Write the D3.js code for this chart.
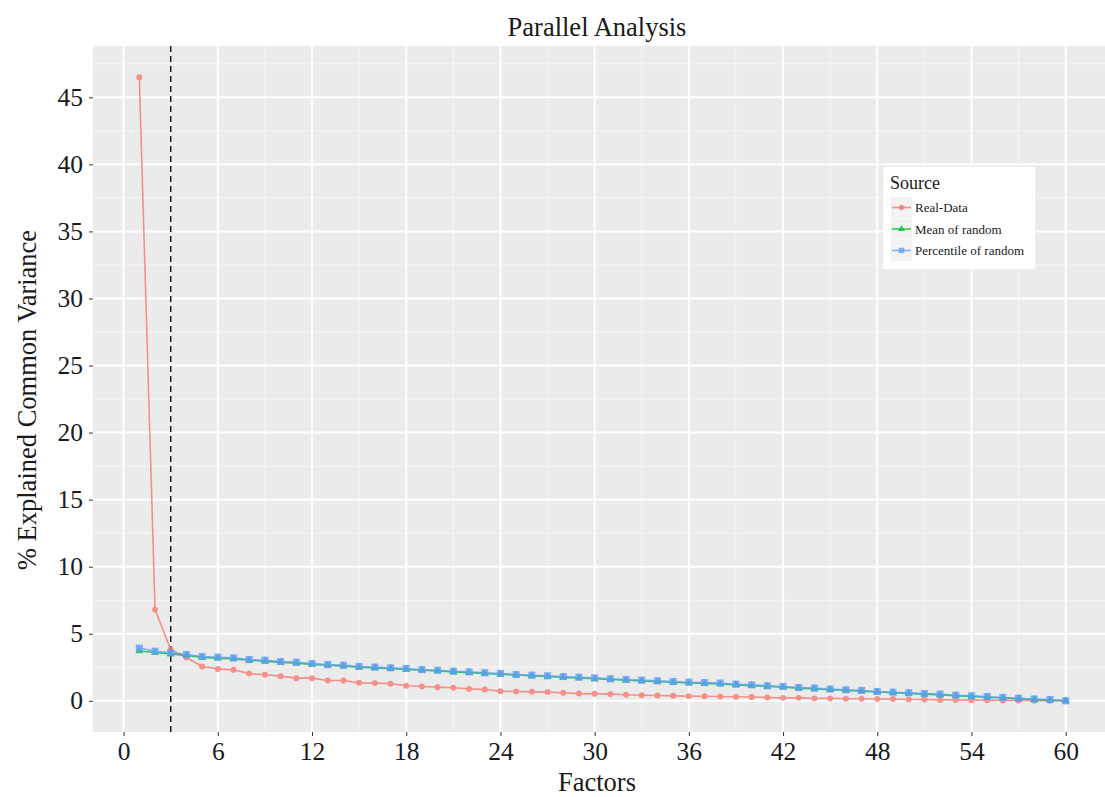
<!DOCTYPE html>
<html>
<head>
<meta charset="utf-8">
<script src="https://cdn.jsdelivr.net/npm/d3@7"></script>
<style>
  body { margin: 0; background: white; }
  text { font-family: "Liberation Serif", "Times New Roman", serif; }
</style>
</head>
<body>
<div id="chart"></div>
<script>
// Data
const factors = d3.range(1, 61);

const realData = [46.5, 6.8, 3.82, 3.23, 2.56, 2.38, 2.31, 2.03, 1.94, 1.84,
  1.69, 1.69, 1.51, 1.51, 1.34, 1.32, 1.28, 1.12, 1.07, 1.02,
  0.97, 0.89, 0.84, 0.72, 0.69, 0.67, 0.65, 0.60, 0.54, 0.52,
  0.50, 0.45, 0.42, 0.40, 0.37, 0.35, 0.34, 0.32, 0.30, 0.28,
  0.25, 0.22, 0.22, 0.18, 0.18, 0.15, 0.15, 0.13, 0.13, 0.10,
  0.10, 0.07, 0.07, 0.05, 0.05, 0.03, 0.03, 0.01, 0.01, 0.00];

const meanRandom = [3.72, 3.60, 3.50, 3.38, 3.24, 3.18, 3.12, 3.02, 2.96, 2.87,
  2.81, 2.72, 2.65, 2.59, 2.51, 2.45, 2.40, 2.34, 2.28, 2.22,
  2.16, 2.10, 2.04, 1.98, 1.92, 1.86, 1.81, 1.75, 1.70, 1.64,
  1.59, 1.53, 1.48, 1.43, 1.38, 1.33, 1.29, 1.25, 1.19, 1.13,
  1.07, 1.01, 0.95, 0.89, 0.83, 0.78, 0.72, 0.66, 0.61, 0.55,
  0.50, 0.44, 0.38, 0.33, 0.27, 0.21, 0.16, 0.10, 0.05, 0.00];

const pctRandom = [3.93, 3.70, 3.58, 3.45, 3.30, 3.25, 3.20, 3.08, 3.03, 2.93,
  2.88, 2.78, 2.70, 2.66, 2.56, 2.51, 2.46, 2.41, 2.33, 2.28,
  2.21, 2.16, 2.09, 2.04, 1.96, 1.91, 1.86, 1.81, 1.76, 1.71,
  1.64, 1.59, 1.54, 1.49, 1.44, 1.39, 1.36, 1.32, 1.24, 1.19,
  1.12, 1.07, 0.99, 0.95, 0.87, 0.82, 0.77, 0.69, 0.64, 0.60,
  0.54, 0.50, 0.42, 0.37, 0.32, 0.25, 0.19, 0.13, 0.10, 0.00];

const seriesNames = ["Real-Data", "Mean of random", "Percentile of random"];
const seriesColors = ["#F8766D", "#00BA38", "#619CFF"];
const seriesShapes = [d3.symbolCircle, d3.symbolTriangle, d3.symbolSquare];

const xTicks = d3.range(0, 61, 6);
const yTicks = d3.range(0, 46, 5);
const cutoff = 3; // vertikal streckad linje

const width = 1105, height = 797;
const panel = { left: 93, right: 1112, top: 46, bottom: 732 };

(() => {
  const svg = d3.select("#chart").append("svg")
    .attr("width", width)
    .attr("height", height);

  // ggplot-style expansion (5 %)
  const x = d3.scaleLinear().domain([1 - 2.95, 60 + 2.95]).range([panel.left, panel.right]);
  const yMax = d3.max(realData);
  const y = d3.scaleLinear().domain([-yMax * 0.05, yMax * 1.05]).range([panel.bottom, panel.top]);

  svg.append("rect")
    .attr("x", panel.left).attr("y", panel.top)
    .attr("width", panel.right - panel.left).attr("height", panel.bottom - panel.top)
    .attr("fill", "#EBEBEB");

  const grid = svg.append("g");
  // minor grid
  const xMinor = d3.range(3, 63, 6).filter(v => v < x.domain()[1]);
  const yMinor = d3.range(2.5, 50, 5).filter(v => v < y.domain()[1]);
  grid.selectAll(".xminor").data(xMinor).enter().append("line")
    .attr("x1", d => x(d)).attr("x2", d => x(d))
    .attr("y1", panel.top).attr("y2", panel.bottom)
    .attr("stroke", "#F5F5F5").attr("stroke-width", 1);
  grid.selectAll(".yminor").data(yMinor).enter().append("line")
    .attr("y1", d => y(d)).attr("y2", d => y(d))
    .attr("x1", panel.left).attr("x2", panel.right)
    .attr("stroke", "#F5F5F5").attr("stroke-width", 1);
  // major grid
  grid.selectAll(".xmajor").data(xTicks).enter().append("line")
    .attr("x1", d => x(d)).attr("x2", d => x(d))
    .attr("y1", panel.top).attr("y2", panel.bottom)
    .attr("stroke", "white").attr("stroke-width", 2);
  grid.selectAll(".ymajor").data(yTicks).enter().append("line")
    .attr("y1", d => y(d)).attr("y2", d => y(d))
    .attr("x1", panel.left).attr("x2", panel.right)
    .attr("stroke", "white").attr("stroke-width", 2);

  // axes
  const xAxis = svg.append("g")
    .attr("transform", `translate(0,${panel.bottom})`)
    .call(d3.axisBottom(x).tickValues(xTicks).tickSize(4).tickPadding(6));
  const yAxis = svg.append("g")
    .attr("transform", `translate(${panel.left},0)`)
    .call(d3.axisLeft(y).tickValues(yTicks).tickSize(4).tickPadding(6));
  [xAxis, yAxis].forEach(a => {
    a.select(".domain").remove();
    a.selectAll(".tick line").attr("stroke", "#333");
    a.selectAll(".tick text")
      .attr("fill", "#1a1a1a")
      .style("font-family", "Liberation Serif, serif")
      .style("font-size", "25.5px");
  });

  // streckad linje
  svg.append("line")
    .attr("x1", x(cutoff)).attr("x2", x(cutoff))
    .attr("y1", panel.top).attr("y2", panel.bottom)
    .attr("stroke", "#1a1a1a").attr("stroke-width", 1.5)
    .attr("stroke-dasharray", "6,4");

  const allSeries = [realData, meanRandom, pctRandom];
  const line = d3.line().x((d, i) => x(factors[i])).y(d => y(d));

  allSeries.forEach((vals, s) => {
    const g = svg.append("g").attr("opacity", 0.78);
    g.append("path")
      .datum(vals)
      .attr("d", line)
      .attr("fill", "none")
      .attr("stroke", seriesColors[s])
      .attr("stroke-width", 1.6);
    g.selectAll("path.pt").data(vals).enter().append("path")
      .attr("class", "pt")
      .attr("transform", (d, i) => `translate(${x(factors[i])},${y(d)})`)
      .attr("d", d3.symbol().type(seriesShapes[s]).size(s === 2 ? 50 : 28))
      .attr("fill", seriesColors[s]);
  });

  // titlar
  svg.append("text")
    .attr("x", 597).attr("y", 36)
    .attr("text-anchor", "middle")
    .style("font-size", "26.5px").attr("fill", "#1a1a1a")
    .text("Parallel Analysis");

  svg.append("text")
    .attr("x", 597).attr("y", 791)
    .attr("text-anchor", "middle")
    .style("font-size", "26.5px").attr("fill", "#1a1a1a")
    .text("Factors");

  svg.append("text")
    .attr("transform", `translate(36,${(panel.top + panel.bottom) / 2 + 11}) rotate(-90)`)
    .attr("text-anchor", "middle")
    .style("font-size", "26.5px").attr("fill", "#1a1a1a")
    .text("% Explained Common Variance");

  // legend
  const legend = svg.append("g").attr("transform", "translate(883,167)");
  legend.append("rect")
    .attr("width", 152).attr("height", 102)
    .attr("fill", "white");
  legend.append("text")
    .attr("x", 7).attr("y", 22)
    .style("font-size", "18px").attr("fill", "#1a1a1a")
    .text("Source");
  seriesNames.forEach((name, s) => {
    const row = legend.append("g").attr("transform", `translate(8,${30 + s * 21.5})`);
    row.append("rect")
      .attr("width", 21).attr("height", 21)
      .attr("fill", "#F2F2F2");
    row.append("line")
      .attr("x1", 1).attr("x2", 20).attr("y1", 10.5).attr("y2", 10.5)
      .attr("stroke", seriesColors[s]).attr("stroke-width", 1.6).attr("opacity", 0.78);
    row.append("path")
      .attr("transform", "translate(10.5,10.5)")
      .attr("d", d3.symbol().type(seriesShapes[s]).size(s === 2 ? 30 : 22))
      .attr("fill", seriesColors[s]).attr("opacity", 0.78);
    row.append("text")
      .attr("x", 24).attr("y", 15)
      .style("font-size", "13px").attr("fill", "#1a1a1a")
      .text(name);
  });
})();
</script>
</body>
</html>
